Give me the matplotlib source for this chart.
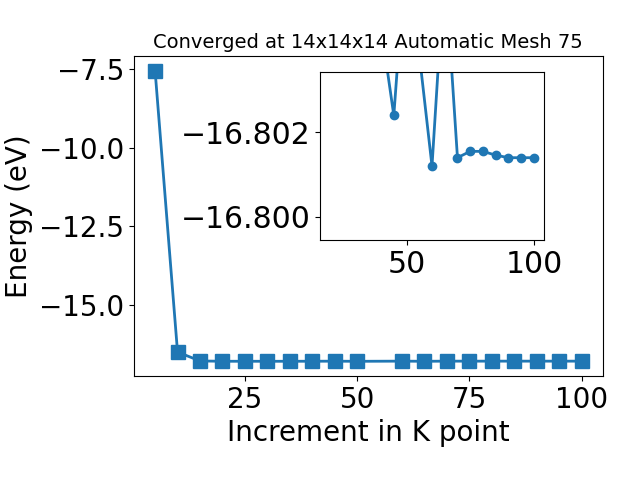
import numpy as np
import matplotlib
matplotlib.use("Agg")
import matplotlib.pyplot as plt

# k-point increments and total energies (eV)
kpoints = [5, 10, 15, 20, 25, 30, 35, 40, 45, 50, 60, 65, 70, 75, 80, 85, 90, 95, 100]
energy = [-7.55, -16.51, -16.795, -16.8055, -16.805, -16.806, -16.8052, -16.8045,
          -16.8024, -16.8065, -16.8012, -16.806, -16.8014, -16.80155, -16.80155,
          -16.80146, -16.8014, -16.8014, -16.8014]
main_yticks = [-7.5, -10.0, -12.5, -15.0]
main_xticks = [25, 50, 75, 100]
inset_yticks = [-16.802, -16.800]

fig = plt.figure(figsize=(6.4, 4.8), dpi=100)
ax = fig.add_subplot(111)
ax.plot(kpoints, energy, marker='s', markersize=10, linewidth=2)
ax.set_xlabel("Increment in K point", fontsize=20)
ax.set_ylabel("Energy (eV)", fontsize=20)
ax.set_title("Converged at 14x14x14 Automatic Mesh 75", fontsize=14)
ax.set_yticks(main_yticks)
ax.set_xticks(main_xticks)
ax.tick_params(labelsize=20)
fig.subplots_adjust(left=0.209, right=0.942, top=0.883, bottom=0.217)

# zoomed view of the converged region
ins = fig.add_axes([0.5, 0.5, 0.35, 0.35])
ins.plot(kpoints[3:], energy[3:], marker='o', markersize=6, linewidth=2)
ins.set_ylim(-16.79945, -16.80343)
ins.set_yticks(inset_yticks)
ins.ticklabel_format(axis='y', useOffset=False)
ins.tick_params(labelsize=21.5)

plt.savefig("out.png")
